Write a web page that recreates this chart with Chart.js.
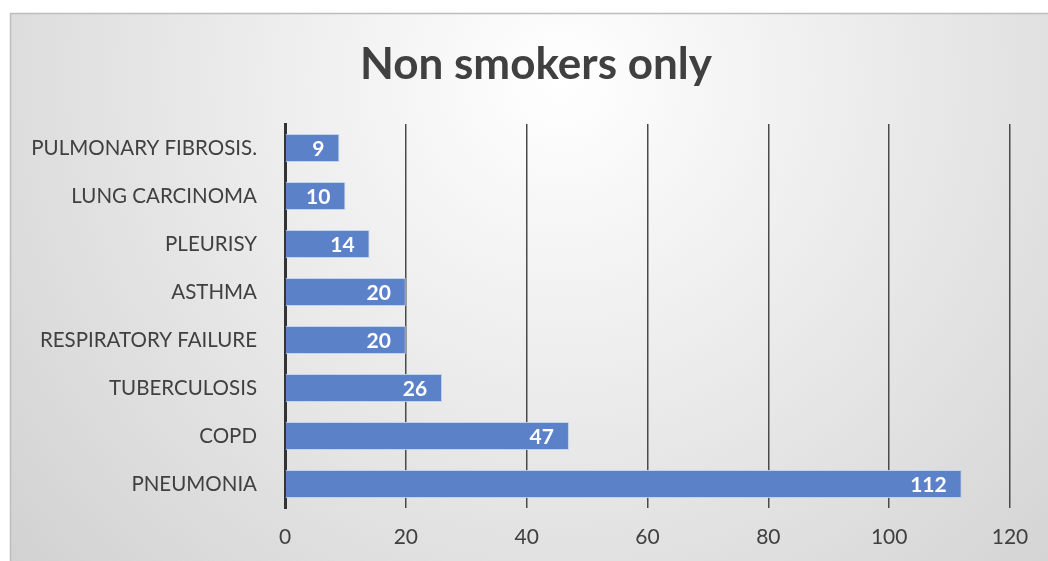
<!DOCTYPE html>
<html>
<head>
<meta charset="utf-8">
<script src="https://cdn.jsdelivr.net/npm/chart.js@4"></script>
<style>
  html, body { margin: 0; padding: 0; background: #fff; }
  #wrap { width: 1048px; height: 561px; position: relative; }
</style>
</head>
<body>
<div id="wrap"><canvas id="chart" width="1048" height="561"></canvas></div>
<script>
// Chart data
const chartTitle = 'Non smokers only';
const categories = ['PULMONARY FIBROSIS.', 'LUNG CARCINOMA', 'PLEURISY', 'ASTHMA',
    'RESPIRATORY FAILURE', 'TUBERCULOSIS', 'COPD', 'PNEUMONIA'];
const patients = [9, 10, 14, 20, 20, 26, 47, 112];
const xTicks = [0, 20, 40, 60, 80, 100, 120];

const FONT = 'Lato, "Open Sans", sans-serif';

// Background: gray radial fill with a thin frame, plus the title
const backgroundPlugin = {
    id: 'bg',
    beforeDraw(chart) {
        const ctx = chart.ctx;
        ctx.save();
        ctx.fillStyle = '#ffffff';
        ctx.fillRect(0, 0, chart.width, chart.height);
        const g = ctx.createRadialGradient(560, 80, 0, 560, 80, 820);
        g.addColorStop(0, '#ffffff');
        g.addColorStop(1, '#cccccc');
        ctx.fillStyle = g;
        ctx.fillRect(10, 13, chart.width, chart.height);
        ctx.strokeStyle = '#bdbdbd';
        ctx.lineWidth = 1.5;
        ctx.beginPath();
        ctx.moveTo(10.5, chart.height);
        ctx.lineTo(10.5, 13.5);
        ctx.lineTo(chart.width, 13.5);
        ctx.stroke();

        // title, centred on the whole frame like the office chart
        ctx.fillStyle = '#404040';
        ctx.font = 'bold 44px ' + FONT;
        ctx.textAlign = 'center';
        ctx.textBaseline = 'middle';
        ctx.fillText(chartTitle, 536, 65);
        ctx.restore();
    }
};

// Value labels inside the end of each bar
const valueLabels = {
    id: 'valueLabels',
    afterDatasetsDraw(chart) {
        const ctx = chart.ctx;
        const meta = chart.getDatasetMeta(0);
        ctx.save();
        ctx.fillStyle = '#ffffff';
        ctx.font = 'bold 21px ' + FONT;
        ctx.textAlign = 'right';
        ctx.textBaseline = 'middle';
        meta.data.forEach((bar, i) => {
            ctx.fillText(String(patients[i]), bar.x - 15, bar.y + 1);
        });
        ctx.restore();
    }
};

new Chart(document.getElementById('chart'), {
    type: 'bar',
    data: {
        labels: categories,
        datasets: [{
            data: patients,
            backgroundColor: '#5b81c9',
            borderColor: 'rgba(190, 208, 240, 0.9)',
            borderWidth: 1,
            borderSkipped: 'start',
            categoryPercentage: 0.58,
            barPercentage: 1
        }]
    },
    options: {
        indexAxis: 'y',
        responsive: false,
        animation: false,
        layout: { padding: { left: 0, right: 38, top: 124, bottom: 13 } },
        plugins: {
            legend: { display: false },
            tooltip: { enabled: false },
            title: { display: false }
        },
        scales: {
            x: {
                min: 0,
                max: 120,
                afterBuildTicks(scale) {
                    scale.ticks = xTicks.map(v => ({ value: v }));
                },
                afterFit(scale) { scale.height = 40; },
                grid: { color: '#4a4a4a', lineWidth: 1.5, drawTicks: false },
                border: { display: false },
                ticks: {
                    color: '#404040',
                    padding: 17,
                    font: { family: FONT, size: 21 }
                }
            },
            y: {
                afterFit(scale) { scale.width = 285; },
                grid: { display: false, drawTicks: false },
                border: { display: true, color: '#333333', width: 3 },
                ticks: {
                    color: '#404040',
                    padding: 28,
                    font: { family: FONT, size: 20.5 }
                }
            }
        }
    },
    plugins: [backgroundPlugin, valueLabels]
});
</script>
</body>
</html>
